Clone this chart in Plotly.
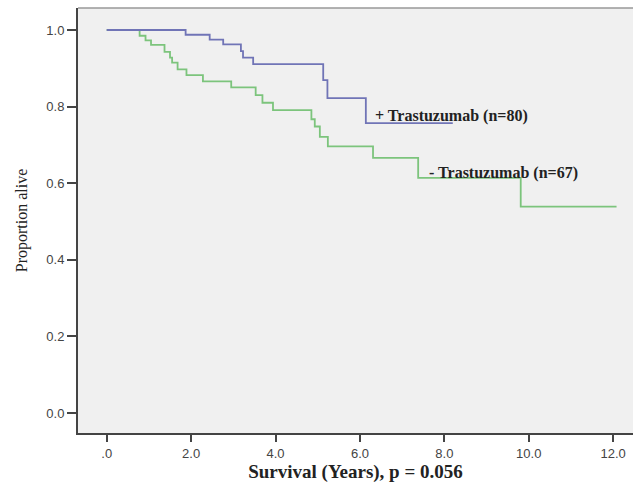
import plotly.graph_objects as go

# + Trastuzumab (n=80)
times_pos = [0, 1.87, 2.44, 2.76, 3.18, 3.23, 3.47, 5.13, 5.23, 6.14, 8.2]
surv_pos = [1.0, 0.9875, 0.975, 0.9625, 0.945, 0.928, 0.911, 0.869, 0.822, 0.757, 0.757]

# - Trastuzumab (n=67)
times_neg = [0, 0.78, 0.92, 1.05, 1.37, 1.50, 1.55, 1.68, 1.89, 2.28, 2.95, 3.53, 3.69,
             3.94, 4.85, 4.93, 5.05, 5.24, 6.31, 7.38, 9.81, 12.08]
surv_neg = [1.0, 0.985, 0.973, 0.961, 0.943, 0.928, 0.915, 0.897, 0.882, 0.866, 0.850, 0.830,
            0.810, 0.791, 0.767, 0.748, 0.721, 0.696, 0.666, 0.614, 0.539, 0.539]

x_tickvals = [0, 2, 4, 6, 8, 10, 12]
x_ticktext = [".0", "2.0", "4.0", "6.0", "8.0", "10.0", "12.0"]
y_tickvals = [0, 0.2, 0.4, 0.6, 0.8, 1.0]
y_ticktext = ["0.0", "0.2", "0.4", "0.6", "0.8", "1.0"]

label_pos = "+ Trastuzumab (n=80)"
label_neg = "- Trastuzumab (n=67)"

fig = go.Figure()
fig.add_trace(go.Scatter(x=times_neg, y=surv_neg, mode="lines", line_shape="hv",
                         line=dict(color="#7cc47c", width=1.8), showlegend=False))
fig.add_trace(go.Scatter(x=times_pos, y=surv_pos, mode="lines", line_shape="hv",
                         line=dict(color="#7074b6", width=1.8), showlegend=False))

serif = "Liberation Serif"
fig.add_annotation(x=6.31, y=0.775, text="<b>" + label_pos + "</b>", showarrow=False,
                   xanchor="left", yanchor="middle",
                   font=dict(family=serif, size=16, color="#222"))
fig.add_annotation(x=7.58, y=0.627, text="<b>" + label_neg + "</b>", showarrow=False,
                   xanchor="left", yanchor="middle",
                   font=dict(family=serif, size=16, color="#222"))

# top frame line
fig.add_shape(type="line", xref="paper", yref="paper", x0=0, x1=1, y0=1, y1=1,
              line=dict(color="#999", width=1.5))

fig.update_layout(
    width=633, height=483,
    margin=dict(l=78, r=0, t=8, b=50),
    paper_bgcolor="white", plot_bgcolor="#f0f0f0",
    xaxis=dict(range=[-0.68, 12.47], tickvals=x_tickvals, ticktext=x_ticktext,
               showgrid=False, zeroline=False, showline=True, linecolor="#444", linewidth=2,
               ticks="outside", ticklen=7, tickwidth=2, tickcolor="#444",
               tickfont=dict(family="Liberation Sans", size=13, color="#444"),
               title=dict(text="<b>Survival (Years), p = 0.056</b>", standoff=4,
                          font=dict(family=serif, size=19, color="#222"))),
    yaxis=dict(range=[-0.0522, 1.0574], tickvals=y_tickvals, ticktext=y_ticktext,
               showgrid=False, zeroline=False, showline=True, linecolor="#444", linewidth=2,
               ticks="outside", ticklen=9, tickwidth=2, tickcolor="#444",
               tickfont=dict(family="Liberation Sans", size=13, color="#444"),
               title=dict(text="Proportion alive", standoff=15,
                          font=dict(family=serif, size=16, color="#222"))),
)

fig.write_html("out.html", config={"displayModeBar": False},
               post_script="document.body.style.margin='0';")
